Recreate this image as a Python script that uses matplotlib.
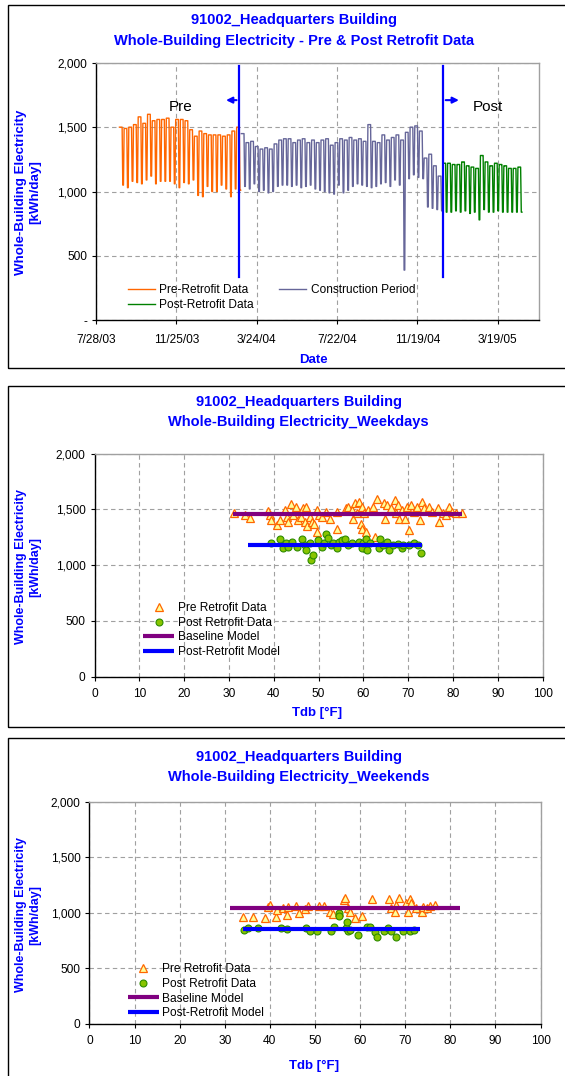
"""
91002_Headquarters Building - whole-building electricity, pre / post retrofit.
Three stacked Excel-style charts: daily time series + weekday / weekend
scatter against dry-bulb temperature with the two regression models.
"""

import matplotlib
matplotlib.use("Agg")
import datetime as dt
import matplotlib.pyplot as plt
import matplotlib.dates as mdates
from matplotlib.patches import Rectangle

plt.rcParams["font.family"] = ["Liberation Sans", "DejaVu Sans"]

W, H = 565, 1076          # output size in px (dpi 100)
BLUE = "#0000FF"
GRID = "#A0A0A0"

# ------------------------------------------------------------------
# Time series (read per week: weekday level, weekend level)
# ------------------------------------------------------------------
PRE_START = "2003-09-01"
PRE_HIGH = [1500, 1490, 1500, 1520, 1580, 1530, 1600, 1550, 1560, 1560,
            1570, 1500, 1560, 1560, 1550, 1480, 1430, 1470, 1450, 1440,
            1440, 1440, 1430, 1440, 1470, 1500]
PRE_LOW = [1050, 1030, 1080, 1070, 1060, 1090, 1120, 1060, 1080, 1080,
           1080, 1060, 1030, 1070, 1060, 1090, 970, 960, 1040, 1000,
           1000, 1050, 1020, 960, 1020, 1010]

CON_START = "2004-03-01"
CON_HIGH = [1450, 1380, 1390, 1350, 1330, 1340, 1330, 1370, 1400, 1410,
            1410, 1380, 1400, 1410, 1380, 1400, 1380, 1400, 1410,
            1360, 1380, 1410, 1400, 1420, 1400, 1410, 1390, 1520, 1390,
            1380, 1440, 1400, 1420, 1440, 1400, 1460, 1500, 1510, 1470,
            1260, 1290, 1200, 1120]
CON_LOW = [1040, 1020, 1060, 1000, 1010, 990, 1000, 1040, 1050, 1050,
           1040, 1050, 1030, 1040, 1050, 1020, 1010, 1000, 990,
           980, 1050, 990, 1010, 1040, 1060, 1050, 1040, 1030, 1040,
           1060, 1070, 1040, 1090, 1050, 390, 1100, 1130, 1110, 1100,
           880, 870, 860, 850]

POST_START = "2004-12-27"
POST_HIGH = [1220, 1220, 1210, 1210, 1230, 1200, 1190, 1180, 1280, 1230,
             1200, 1220, 1210, 1200, 1180, 1180, 1190]
POST_LOW = [840, 840, 850, 840, 850, 830, 840, 780, 860, 840,
            840, 850, 840, 840, 840, 840, 840]

PRE_LINE_DATE = "2004-02-27"
POST_LINE_DATE = "2004-12-27"

DATE_TICKS = ["2003-07-28", "2003-11-25", "2004-03-24", "2004-07-22",
              "2004-11-19", "2005-03-19"]
DATE_TICK_LABELS = ["7/28/03", "11/25/03", "3/24/04", "7/22/04",
                    "11/19/04", "3/19/05"]
DATE_MIN, DATE_MAX = "2003-07-28", "2005-05-19"

Y_TICKS = [0, 500, 1000, 1500, 2000]
Y_LABELS_TS = ["-", "500", "1,000", "1,500", "2,000"]
Y_LABELS = ["0", "500", "1,000", "1,500", "2,000"]
X_TICKS = list(range(0, 101, 10))

# ------------------------------------------------------------------
# Weekdays scatter
# ------------------------------------------------------------------
WD_PRE_T = [31.1, 33.6, 34.7, 38.7, 39.1, 39.4, 40.7, 41.3, 42.5, 42.9,
            43.3, 43.9, 44.2, 44.9, 45.5, 46.1, 46.5, 46.9, 47.1, 47.5,
            48.1, 48.5, 48.9, 49.6, 49.7, 50.1, 50.8, 51.7, 52.5, 54.1,
            54.1, 56.2, 56.6, 57.4, 57.8, 58.2, 58.6, 59.0, 59.4, 59.6,
            59.8, 60.2, 60.6, 61.0, 62.2, 63.0, 62.6, 64.6, 64.8, 65.4,
            66.2, 67.0, 67.4, 67.8, 68.0, 68.6, 69.2, 69.7, 70.2, 70.6,
            71.3, 71.9, 72.7, 73.1, 73.5, 74.7, 75.3, 76.6, 76.9, 77.7,
            78.5, 79.1, 79.9, 80.7, 82.0]
WD_PRE_E = [1462, 1447, 1426, 1486, 1447, 1402, 1357, 1402, 1492, 1432,
            1387, 1545, 1447, 1522, 1402, 1432, 1507, 1387, 1522, 1351,
            1432, 1387, 1372, 1492, 1297, 1447, 1432, 1477, 1417, 1327,
            1477, 1507, 1522, 1492, 1417, 1552, 1462, 1566, 1372, 1327,
            1522, 1462, 1297, 1492, 1522, 1596, 1252, 1552, 1417, 1537,
            1507, 1581, 1462, 1537, 1417, 1492, 1417, 1522, 1312, 1537,
            1477, 1522, 1402, 1566, 1507, 1522, 1477, 1507, 1387, 1462,
            1447, 1522, 1477, 1462, 1462]
WD_POST_T = [39.4, 41.3, 42.1, 42.7, 43.3, 44.1, 45.3, 46.3, 46.9, 47.3,
             48.1, 48.3, 48.7, 49.9, 50.8, 51.2, 51.6, 52.1, 52.8, 53.3,
             54.1, 54.5, 55.3, 55.9, 56.6, 57.4, 59.0, 59.6, 60.0, 60.6,
             60.8, 61.6, 63.4, 63.8, 64.4, 65.4, 65.8, 66.6, 67.8, 68.6,
             68.9, 70.2, 71.4, 72.1, 72.9]
WD_POST_E = [1193, 1229, 1148, 1193, 1163, 1208, 1163, 1229, 1178, 1133,
             1193, 1043, 1088, 1223, 1163, 1193, 1282, 1238, 1178, 1193,
             1148, 1208, 1223, 1229, 1178, 1193, 1208, 1148, 1193, 1229,
             1133, 1193, 1148, 1229, 1178, 1208, 1139, 1178, 1187, 1148,
             1178, 1178, 1193, 1178, 1109]
WD_BASE_T, WD_BASE_E = [31, 82], [1458, 1458]
WD_MODEL_T, WD_MODEL_E = [34.2, 73.0], [1178, 1178]

# ------------------------------------------------------------------
# Weekends scatter
# ------------------------------------------------------------------
WE_PRE_T = [34.1, 36.3, 38.9, 39.7, 40.1, 41.3, 41.6, 42.9, 43.7, 44.1,
            45.7, 46.5, 47.7, 48.5, 50.9, 52.1, 53.3, 54.1, 55.3, 56.5,
            56.7, 57.3, 57.7, 58.9, 60.5, 62.7, 66.5, 66.9, 67.7, 67.9,
            68.7, 70.1, 70.7, 71.1, 71.4, 72.4, 73.8, 74.0, 74.8, 75.6,
            76.7]
WE_PRE_E = [966, 966, 951, 1056, 1071, 966, 1026, 1041, 981, 1056,
            1065, 996, 1035, 1065, 1065, 1065, 1011, 990, 1011, 1116,
            1137, 1041, 1011, 951, 975, 1125, 1125, 1047, 1011, 1071,
            1137, 1086, 1011, 1125, 1086, 1041, 1011, 1056, 1047, 1065,
            1071]
WE_POST_T = [34.3, 35.1, 37.3, 42.5, 43.9, 48.1, 49.0, 50.5, 53.5, 54.3,
             55.3, 55.4, 56.9, 57.1, 57.3, 57.8, 59.5, 61.5, 62.2, 63.3,
             63.7, 65.3, 66.3, 66.9, 67.9, 69.6, 71.1, 72.0]
WE_POST_E = [846, 867, 867, 861, 852, 861, 837, 837, 837, 870,
             996, 975, 867, 921, 837, 846, 801, 876, 876, 831,
             786, 837, 867, 837, 786, 837, 837, 846]
WE_BASE_T, WE_BASE_E = [31.2, 82.2], [1046, 1046]
WE_MODEL_T, WE_MODEL_E = [34.1, 73.3], [853, 853]


def px_rect(x0, y0, x1, y1):
    """Pixel box (top-left origin) -> figure fraction rect."""
    return [x0 / W, 1 - y1 / H, (x1 - x0) / W, (y1 - y0) / H]


def dnum(s):
    return mdates.date2num(dt.datetime.fromisoformat(s))


def expand_weeks(start, highs, lows):
    d0 = dnum(start)
    xs, ys = [], []
    for k, (hi, lo) in enumerate(zip(highs, lows)):
        for day in range(7):
            xs.append(d0 + 7 * k + day)
            ys.append(hi if day < 5 else lo)
    return xs, ys


def panel_box(fig, y0, y1):
    fig.add_artist(Rectangle((7.6 / W, 1 - y1 / H), 1.2, (y1 - y0) / H,
                             transform=fig.transFigure, fill=False,
                             ec="black", lw=1.0, clip_on=False))


def fig_text(fig, x, y, s, **kw):
    fig.text(x / W, 1 - y / H, s, ha="center", va="center", **kw)


def style_axes(ax):
    for side in ("top", "right"):
        ax.spines[side].set_color(GRID)
        ax.spines[side].set_linewidth(1.0)
    for side in ("left", "bottom"):
        ax.spines[side].set_color("black")
        ax.spines[side].set_linewidth(1.0)
    ax.tick_params(direction="out", length=3, width=0.8, labelsize=8.6,
                   colors="black")
    ax.grid(True, color=GRID, ls=(0, (4, 3)), lw=0.8)
    ax.set_axisbelow(True)


def time_series(fig):
    ax = fig.add_axes(px_rect(96, 62.8, 538.7, 320.3))
    style_axes(ax)
    ax.tick_params(axis="x", pad=7)

    xs, ys = expand_weeks(PRE_START, PRE_HIGH, PRE_LOW)
    ax.plot(xs, ys, color="#FF6600", lw=1.0, label="Pre-Retrofit Data")
    xs, ys = expand_weeks(CON_START, CON_HIGH, CON_LOW)
    ax.plot(xs, ys, color="#666699", lw=1.0, label="Construction Period")
    xs, ys = expand_weeks(POST_START, POST_HIGH, POST_LOW)
    ax.plot(xs, ys, color="#008000", lw=1.0, label="Post-Retrofit Data")

    pre_x, post_x = dnum(PRE_LINE_DATE), dnum(POST_LINE_DATE)
    for x in (pre_x, post_x):
        ax.plot([x, x], [340, 1975], color=BLUE, lw=1.6, zorder=5)
    arrow = dict(arrowstyle="-|>", color=BLUE, lw=1.5, mutation_scale=9)
    ax.annotate("", xy=(pre_x - 24, 1710), xytext=(pre_x, 1710), arrowprops=arrow)
    ax.annotate("", xy=(post_x + 28, 1710), xytext=(post_x, 1710), arrowprops=arrow)
    ax.text(pre_x - 88, 1660, "Pre", fontsize=11, ha="center", va="center")
    ax.text(post_x + 67, 1660, "Post", fontsize=11, ha="center", va="center")

    ax.set_xlim(dnum(DATE_MIN), dnum(DATE_MAX))
    ax.set_xticks([dnum(d) for d in DATE_TICKS])
    ax.set_xticklabels(DATE_TICK_LABELS)
    ax.set_ylim(0, 2000)
    ax.set_yticks(Y_TICKS)
    ax.set_yticklabels(Y_LABELS_TS)
    ax.yaxis.grid(True)

    h, l = ax.get_legend_handles_labels()
    ax.legend([h[0], h[2], h[1]], [l[0], l[2], l[1]], ncol=2, frameon=False,
              loc="upper left", bbox_to_anchor=(0.058, 0.165), fontsize=8.6,
              borderpad=0, handlelength=2.3, handletextpad=0.35,
              columnspacing=2.1, labelspacing=0.3)

    fig_text(fig, 294, 20, "91002_Headquarters Building", color=BLUE,
             fontsize=10.5, fontweight="bold")
    fig_text(fig, 294, 40.7, "Whole-Building Electricity - Pre & Post Retrofit Data",
             color=BLUE, fontsize=10.5, fontweight="bold")
    fig_text(fig, 28, 192, "Whole-Building Electricity\n[kWh/day]", color=BLUE,
             fontsize=9.6, fontweight="bold", rotation=90, linespacing=1.2)
    fig_text(fig, 313.5, 360, "Date", color=BLUE, fontsize=9.5, fontweight="bold")
    panel_box(fig, 5, 368)


def scatter_panel(fig, box, title, pre, post, base, model, leg_anchor, ylab_y,
                  title_y, xlab_y):
    ax = fig.add_axes(px_rect(*box))
    style_axes(ax)
    ax.tick_params(axis="x", pad=5)

    ax.plot(pre[0], pre[1], ls="none", marker="^", ms=5.5, mfc="#FFFF99",
            mec="#FF6600", mew=0.9, label="Pre Retrofit Data", zorder=3)
    ax.plot(post[0], post[1], ls="none", marker="o", ms=5, mfc="#88C400",
            mec="#2E8B00", mew=0.8, label="Post Retrofit Data", zorder=3)
    ax.plot(base[0], base[1], color="#800080", lw=3, label="Baseline Model",
            solid_capstyle="butt", zorder=4)
    ax.plot(model[0], model[1], color=BLUE, lw=3, label="Post-Retrofit Model",
            solid_capstyle="butt", zorder=4)

    ax.set_xlim(0, 100)
    ax.set_xticks(X_TICKS)
    ax.set_ylim(0, 2000)
    ax.set_yticks(Y_TICKS)
    ax.set_yticklabels(Y_LABELS)

    ax.legend(frameon=False, loc="upper left", bbox_to_anchor=leg_anchor,
              fontsize=8.6, borderpad=0, handlelength=2.6, handletextpad=0.3,
              labelspacing=0.22, numpoints=1)

    fig_text(fig, 298.7, title_y, "91002_Headquarters Building", color=BLUE,
             fontsize=10.5, fontweight="bold")
    fig_text(fig, 298.7, title_y + 19.5, title, color=BLUE, fontsize=10.5,
             fontweight="bold")
    fig_text(fig, 28, ylab_y, "Whole-Building Electricity\n[kWh/day]", color=BLUE,
             fontsize=9.0, fontweight="bold", rotation=90, linespacing=1.2)
    fig_text(fig, (box[0] + box[2]) / 2 - 1, xlab_y, "Tdb [°F]", color=BLUE,
             fontsize=9.5, fontweight="bold")


def main():
    fig = plt.figure(figsize=(W / 100, H / 100), dpi=100)

    time_series(fig)

    scatter_panel(fig, (94.5, 453.5, 542.5, 676.5),
                  "Whole-Building Electricity_Weekdays",
                  (WD_PRE_T, WD_PRE_E), (WD_POST_T, WD_POST_E),
                  (WD_BASE_T, WD_BASE_E), (WD_MODEL_T, WD_MODEL_E),
                  leg_anchor=(0.095, 0.36), ylab_y=567, title_y=402.3,
                  xlab_y=713.3)
    panel_box(fig, 386, 727)

    scatter_panel(fig, (89.4, 801.7, 540.5, 1024),
                  "Whole-Building Electricity_Weekends",
                  (WE_PRE_T, WE_PRE_E), (WE_POST_T, WE_POST_E),
                  (WE_BASE_T, WE_BASE_E), (WE_MODEL_T, WE_MODEL_E),
                  leg_anchor=(0.072, 0.30), ylab_y=915, title_y=757.3,
                  xlab_y=1066)
    panel_box(fig, 738, 1100)

    fig.savefig("out.png", dpi=100)
    plt.close(fig)


if __name__ == "__main__":
    main()
